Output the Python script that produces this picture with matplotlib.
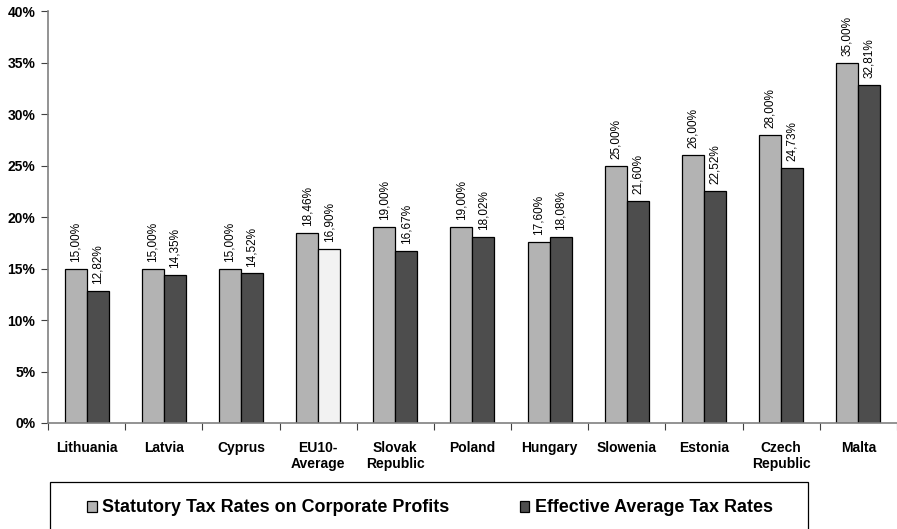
import numpy as np
import matplotlib
matplotlib.use("Agg")
import matplotlib.pyplot as plt
from matplotlib.patches import Rectangle
from matplotlib.ticker import FixedLocator, FuncFormatter

plt.rcParams["font.family"] = ["Liberation Sans", "DejaVu Sans"]

countries = ["Lithuania", "Latvia", "Cyprus", "EU10-\nAverage", "Slovak\nRepublic",
             "Poland", "Hungary", "Slowenia", "Estonia", "Czech\nRepublic", "Malta"]
statutory = [15.00, 15.00, 15.00, 18.46, 19.00, 19.00, 17.60, 25.00, 26.00, 28.00, 35.00]
effective = [12.82, 14.35, 14.52, 16.90, 16.67, 18.02, 18.08, 21.60, 22.52, 24.73, 32.81]
avg_label = "EU10-\nAverage"

c_stat = "#b3b3b3"
c_eff = "#4d4d4d"
c_avg = "#f2f2f2"

fig = plt.figure(figsize=(8.97, 5.29), dpi=100)
ax = fig.add_axes([0.0535, 0.2004, 0.9465, 0.7786])

x = np.arange(len(countries))
w = 0.285
eff_colors = [c_avg if c == avg_label else c_eff for c in countries]

b1 = ax.bar(x - w / 2, statutory, w, color=c_stat, edgecolor="black", linewidth=0.9)
b2 = ax.bar(x + w / 2, effective, w, color=eff_colors, edgecolor="black", linewidth=0.9)

# value labels, rotated like the spreadsheet original
for bars, vals in ((b1, statutory), (b2, effective)):
    for rect, v in zip(bars, vals):
        ax.annotate(f"{v:.2f}%".replace(".", ","),
                    (rect.get_x() + rect.get_width() / 2, v),
                    xytext=(0, 5), textcoords="offset points",
                    rotation=90, ha="center", va="bottom", fontsize=8.5)

ax.set_xlim(-0.5, len(countries) - 0.5)
ax.set_ylim(0, 40)
ax.set_yticks(np.arange(0, 41, 5))
ax.yaxis.set_major_formatter(FuncFormatter(lambda v, _: f"{v:.0f}%"))

# category boundaries carry the tick marks, centres carry the names
ax.xaxis.set_major_locator(FixedLocator(np.arange(-0.5, len(countries), 1.0)))
ax.xaxis.set_minor_locator(FixedLocator(x))
ax.set_xticklabels([], minor=False)
ax.set_xticklabels(countries, minor=True, fontweight="bold", fontsize=10, linespacing=1.15)
ax.tick_params(axis="x", which="minor", length=0, pad=13)
ax.tick_params(axis="x", which="major", length=5, direction="out", color="#404040")
ax.tick_params(axis="y", length=5, direction="out", color="#404040", pad=4)
for lab in ax.get_yticklabels():
    lab.set_fontweight("bold")
    lab.set_fontsize(10)

for s in ("top", "right"):
    ax.spines[s].set_visible(False)
for s in ("left", "bottom"):
    ax.spines[s].set_color("#808080")
    ax.spines[s].set_linewidth(1.2)

# legend box runs off the bottom edge of the figure
fig.patches.append(Rectangle((0.0557, -0.05), 0.845, 0.1388, transform=fig.transFigure,
                             facecolor="white", edgecolor="black", linewidth=0.9))
leg = fig.legend([b1[0], b2[0]],
                 ["Statutory Tax Rates on Corporate Profits", "Effective Average Tax Rates"],
                 loc="center", bbox_to_anchor=(0.4794, 0.0397), ncol=2, frameon=False,
                 prop={"weight": "bold", "size": 12.9},
                 handlelength=0.55, handleheight=0.55, handletextpad=0.3,
                 borderaxespad=0, borderpad=0, columnspacing=3.9)

fig.savefig("out.png", dpi=100)
